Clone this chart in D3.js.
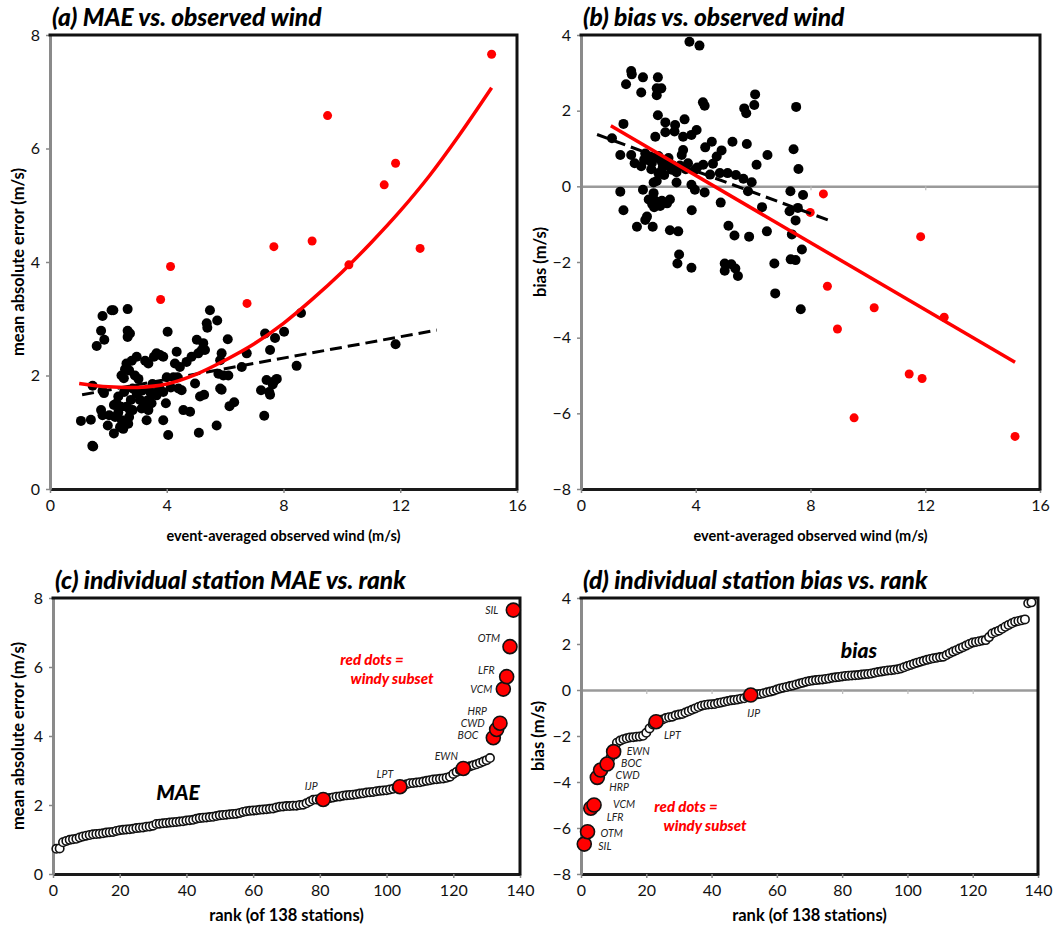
<!DOCTYPE html>
<html>
<head>
<meta charset="utf-8">
<script src="https://cdn.jsdelivr.net/npm/d3@7"></script>
<style>
  body { margin: 0; background: #fff; }
  svg text { font-family: Lato, "Open Sans", sans-serif; }
</style>
</head>
<body>
<svg id="fig" width="1055" height="929"></svg>
<script>
// ---------- (a) MAE vs. event-averaged observed wind ----------
const obsWindBlackA = [1.06,1.40,1.48,1.45,1.46,1.60,1.75,1.80,1.86,1.85,
  1.75,1.80,1.98,2.11,2.17,2.19,2.23,2.19,2.34,2.40,
  2.51,2.46,2.66,2.66,2.74,2.66,2.53,2.62,2.71,2.80,
  2.91,2.97,2.62,2.77,2.71,2.68,2.97,3.08,3.14,3.22,
  3.31,3.26,3.37,3.48,3.56,3.65,3.77,3.88,3.65,3.88,
  3.48,3.37,3.88,3.97,4.05,4.03,4.00,4.23,4.28,4.34,
  4.40,4.51,4.45,4.57,4.80,4.68,4.85,4.97,5.03,5.08,
  5.14,5.10,5.25,5.20,5.37,5.39,5.48,5.73,5.71,5.83,
  5.83,5.88,5.77,5.94,6.09,6.11,6.15,6.31,6.57,6.74,
  7.23,7.34,7.37,7.42,7.54,7.54,7.63,7.71,7.77,8.02,
  8.45,8.60,11.84,2.28,2.43,2.54,2.83,3.03,3.14,3.40,
  3.51,3.74,2.83,2.45,2.57,4.14,4.37,1.80,2.03,2.34,
  3.37,3.68,5.28,5.88,7.51,7.68,5.31,2.74];
const maeBlack = [1.20,1.22,0.75,0.76,1.82,2.52,2.79,3.05,2.63,1.69,
  1.39,1.30,1.12,3.15,3.15,1.48,1.27,0.98,1.35,1.09,
  1.06,1.21,3.17,2.79,2.74,2.68,1.95,2.21,2.09,2.26,
  2.00,2.33,1.45,1.57,1.27,1.15,1.68,1.57,1.42,1.45,
  1.21,2.26,2.21,1.68,2.33,2.39,2.36,2.33,1.65,1.71,
  1.51,1.39,1.21,1.51,0.95,2.77,1.97,1.97,2.21,2.42,
  1.77,1.74,2.15,1.39,1.36,2.24,2.33,1.86,2.63,2.39,
  1.63,0.99,2.57,2.45,2.92,2.84,3.15,2.97,1.12,1.77,
  2.27,2.39,2.03,2.00,2.64,2.00,1.46,1.53,2.15,2.39,
  1.74,1.29,2.74,1.92,2.45,1.66,1.84,2.66,1.94,2.77,
  2.17,3.10,2.55,1.51,1.45,1.71,1.77,1.94,1.73,1.73,
  1.85,1.82,1.39,2.00,2.11,1.79,1.97,1.73,1.30,1.63,
  1.57,1.71,1.66,1.75,1.71,1.90,2.45,1.39];
const obsWindRedA = [15.13,9.51,11.84,11.45,8.98,7.67,12.68,4.13,10.24,3.79,6.75];
const maeRed      = [7.66,6.58,5.74,5.36,4.37,4.27,4.24,3.92,3.95,3.34,3.27];
// fitted curve (windy subset) and linear fit (all stations)
const maeCurveWind  = [1.0,2,3,4,5,6,7,8,9,10,11,12,13,14,15.13];
const maeCurveValue = [1.86,1.80,1.79,1.85,2.02,2.27,2.56,2.92,3.35,3.82,4.34,4.90,5.52,6.22,7.07];
const maeLineWind  = [1.1,13.25];
const maeLineValue = [1.66,2.80];

// ---------- (b) bias vs. event-averaged observed wind ----------
const obsWindBlackB = [3.78,4.13,1.75,1.77,1.57,2.16,2.10,2.68,2.64,2.80,
  2.64,4.25,4.31,5.69,5.76,6.07,6.04,7.50,2.68,1.48,
  2.94,3.61,3.28,3.26,2.94,2.59,3.56,3.85,4.03,1.08,
  4.56,4.33,5.28,5.78,7.41,1.37,1.75,1.87,2.10,2.24,
  2.41,2.59,2.82,2.99,3.16,3.33,3.51,3.56,3.73,3.97,
  4.26,4.50,4.73,4.84,5.11,6.12,6.50,7.58,2.70,2.64,
  3.33,2.53,5.66,5.95,1.37,2.16,2.53,3.85,3.97,4.31,
  5.82,7.30,7.74,1.48,2.36,2.48,2.59,2.76,2.82,3.10,
  3.86,4.87,6.31,7.27,7.56,7.48,1.95,2.24,2.30,2.50,
  3.10,3.39,5.14,5.35,5.86,6.48,7.35,7.70,3.42,3.36,
  3.85,5.01,5.24,5.01,5.38,5.47,6.74,7.31,7.48,6.77,
  7.66,2.30,2.47,2.85,3.05,3.20,2.45,3.45,4.05,2.70,
  4.60,3.65,2.20,2.90,5.40,4.90,3.00,2.55];
const biasBlack = [3.82,3.72,3.05,2.96,2.70,2.88,2.48,2.88,2.59,2.59,
  2.41,2.22,2.13,2.06,1.93,2.43,2.15,2.10,1.88,1.65,
  1.69,1.77,1.62,1.45,1.43,1.31,1.31,1.36,1.49,1.27,
  1.18,1.03,1.18,1.12,0.98,0.83,0.83,0.61,0.53,0.87,
  0.79,0.75,0.64,0.61,0.44,0.37,0.83,0.96,0.61,0.44,
  0.57,0.31,0.79,0.35,0.35,0.57,0.83,0.46,0.35,0.14,
  0.10,0.10,0.20,0.11,-0.14,-0.09,-0.18,0.04,-0.09,-0.16,
  -0.13,-0.13,-0.23,-0.63,-0.35,-0.47,-0.38,-0.52,-0.38,-0.35,
  -0.63,-0.43,-0.55,-0.66,-0.57,-0.90,-1.07,-0.89,-0.80,-1.07,
  -1.16,-1.19,-1.04,-1.30,-1.33,-1.19,-1.27,-1.67,-1.80,-2.04,
  -2.15,-2.04,-2.06,-2.23,-2.17,-2.37,-2.04,-1.93,-1.95,-2.83,
  -3.25,0.70,0.62,0.50,0.75,0.55,0.45,0.55,0.50,0.80,
  0.60,0.45,0.70,0.30,0.30,0.95,-0.45,-0.55];
const obsWindRedB = [8.45,7.99,11.84,8.59,10.22,8.94,12.66,11.44,11.89,9.52,15.13];
const biasRed     = [-0.20,-0.69,-1.33,-2.64,-3.21,-3.77,-3.46,-4.96,-5.08,-6.12,-6.61];
const biasRedLineWind  = [1.04,15.13];
const biasRedLineValue = [1.60,-4.65];
const biasAllLineWind  = [0.56,8.68];
const biasAllLineValue = [1.37,-0.91];

// ---------- (c) station MAE sorted by rank (ranks 1..138) ----------
const maeSorted = [0.73,0.74,0.92,0.96,0.99,1.01,1.02,1.06,1.09,1.11,
  1.13,1.15,1.16,1.17,1.18,1.20,1.21,1.22,1.25,1.27,
  1.28,1.29,1.30,1.31,1.33,1.34,1.35,1.37,1.38,1.40,
  1.45,1.46,1.47,1.48,1.49,1.50,1.51,1.52,1.53,1.55,
  1.56,1.57,1.60,1.62,1.63,1.64,1.65,1.66,1.68,1.70,
  1.71,1.72,1.73,1.74,1.75,1.77,1.80,1.82,1.83,1.84,
  1.85,1.86,1.87,1.88,1.89,1.90,1.93,1.95,1.96,1.97,
  1.97,1.98,1.98,2.00,2.01,2.05,2.10,2.15,2.16,2.16,
  2.16,2.18,2.20,2.22,2.24,2.25,2.27,2.28,2.29,2.30,
  2.31,2.33,2.34,2.36,2.37,2.38,2.40,2.41,2.42,2.43,
  2.45,2.47,2.50,2.53,2.57,2.60,2.63,2.64,2.65,2.66,
  2.68,2.70,2.72,2.74,2.75,2.76,2.77,2.79,2.82,2.90,
  2.96,3.01,3.06,3.09,3.12,3.15,3.18,3.22,3.26,3.30,
  3.36,3.95,4.19,4.37,5.36,5.72,6.59,7.65];
const maeRedStations = ["IJP","LPT","EWN","BOC","CWD","HRP","VCM","LFR","OTM","SIL"];
const maeRedRanks    = [81,104,123,132,133,134,135,136,137,138];

// ---------- (d) station bias sorted by rank (ranks 1..138) ----------
const biasSorted = [-6.70,-6.16,-5.14,-5.00,-3.80,-3.48,-3.35,-3.22,-2.95,-2.68,
  -2.29,-2.20,-2.14,-2.10,-2.06,-2.05,-2.03,-2.02,-1.99,-1.86,
  -1.67,-1.50,-1.38,-1.30,-1.28,-1.22,-1.18,-1.16,-1.10,-1.07,
  -1.04,-0.98,-0.92,-0.86,-0.80,-0.74,-0.68,-0.65,-0.63,-0.62,
  -0.61,-0.57,-0.54,-0.51,-0.48,-0.45,-0.43,-0.41,-0.38,-0.36,
  -0.30,-0.22,-0.20,-0.19,-0.17,-0.14,-0.10,-0.07,-0.03,0.02,
  0.07,0.10,0.13,0.17,0.20,0.24,0.28,0.32,0.36,0.39,
  0.41,0.43,0.45,0.46,0.48,0.50,0.53,0.55,0.57,0.59,
  0.61,0.62,0.63,0.64,0.65,0.67,0.69,0.70,0.72,0.75,
  0.78,0.80,0.83,0.85,0.86,0.88,0.90,0.94,0.99,1.04,
  1.09,1.14,1.19,1.23,1.27,1.31,1.35,1.38,1.40,1.43,
  1.45,1.52,1.60,1.67,1.73,1.80,1.86,1.93,2.00,2.06,
  2.09,2.12,2.15,2.17,2.30,2.46,2.52,2.58,2.66,2.75,
  2.83,2.90,2.97,3.00,3.03,3.07,3.77,3.81];
const biasRedStations = ["SIL","OTM","LFR","VCM","HRP","CWD","BOC","EWN","LPT","IJP"];
const biasRedRanks    = [1,2,3,4,5,6,8,10,23,52];

// ---------- tick labels ----------
const windTicks = [0,4,8,12,16];
const maeTicks  = [0,2,4,6,8];
const biasTicks = [-8,-6,-4,-2,0,2,4];
const rankTicks = [0,20,40,60,80,100,120,140];

// ---------- drawing ----------
const svg = d3.select("#fig");
const RED = "#ff0000";

function makePanel(cfg) {
  const x = d3.scaleLinear().domain(cfg.xDomain).range([cfg.left, cfg.right]);
  const y = d3.scaleLinear().domain(cfg.yDomain).range([cfg.bottom, cfg.top]);
  const g = svg.append("g");

  // zero reference line with small ticks
  if (cfg.zeroLine) {
    const z = g.append("g").attr("transform", `translate(0,${y(0)})`)
      .call(d3.axisBottom(x).tickValues(cfg.xTicks.slice(1, -1)).tickSize(4).tickSizeOuter(0).tickFormat(""));
    z.select(".domain").attr("stroke", "#9a9a9a").attr("stroke-width", 2.5);
    z.selectAll(".tick line").attr("stroke", "#bbb").attr("stroke-width", 1.2);
  }

  // x axis
  const xa = g.append("g").attr("transform", `translate(0,${cfg.bottom})`)
    .call(d3.axisBottom(x).tickValues(cfg.xTicks).tickSize(4).tickSizeOuter(0).tickPadding(7));
  xa.select(".domain").attr("stroke", "#1a1a1a").attr("stroke-width", 3);
  xa.selectAll(".tick line").attr("stroke", "#888").attr("stroke-width", 1.5);
  xa.selectAll(".tick text").attr("font-size", 16).attr("fill", "#111").attr("font-family", "Lato, sans-serif");

  // y axis
  const ya = g.append("g").attr("transform", `translate(${cfg.left},0)`)
    .call(d3.axisLeft(y).tickValues(cfg.yTicks).tickSize(4).tickSizeOuter(0).tickPadding(6));
  ya.select(".domain").attr("stroke", "#8a8a8a").attr("stroke-width", 3);
  ya.selectAll(".tick line").attr("stroke", "#888").attr("stroke-width", 1.5);
  ya.selectAll(".tick text").attr("font-size", 16).attr("fill", "#111").attr("font-family", "Lato, sans-serif");

  // top and right frame
  g.append("path")
    .attr("d", `M${cfg.left - 1.5},${cfg.top}H${cfg.right}V${cfg.bottom + 1.5}`)
    .attr("fill", "none").attr("stroke", "#111").attr("stroke-width", 3);

  // title
  g.append("text").attr("x", cfg.left + 2).attr("y", cfg.top - 9)
    .attr("font-size", 24.5).attr("font-weight", 900).attr("font-style", "italic")
    .attr("fill", "#000").text(cfg.title);

  // axis titles
  g.append("text")
    .attr("x", (cfg.left + cfg.right) / 2).attr("y", cfg.bottom + cfg.xLabelGap)
    .attr("text-anchor", "middle").attr("font-size", cfg.xLabelSize).attr("font-weight", 700)
    .attr("fill", "#000").text(cfg.xLabel);
  g.append("text")
    .attr("transform", `translate(${cfg.yLabelX},${(cfg.top + cfg.bottom) / 2}) rotate(-90)`)
    .attr("text-anchor", "middle").attr("font-size", 16.5).attr("font-weight", 700)
    .attr("fill", "#000").text(cfg.yLabel);

  return { g, x, y };
}

function dots(p, xs, ys, r, fill) {
  p.g.append("g").selectAll("circle").data(d3.range(xs.length)).join("circle")
    .attr("cx", i => p.x(xs[i])).attr("cy", i => p.y(ys[i]))
    .attr("r", r).attr("fill", fill);
}

function linePath(p, xs, ys, color, width, dash, curve) {
  const gen = d3.line().x(i => p.x(xs[i])).y(i => p.y(ys[i])).curve(curve || d3.curveLinear);
  p.g.append("path").attr("d", gen(d3.range(xs.length)))
    .attr("fill", "none").attr("stroke", color).attr("stroke-width", width)
    .attr("stroke-dasharray", dash || null).attr("stroke-linecap", "butt");
}

// ---- panel (a)
const pa = makePanel({
  left: 50, right: 517, top: 35, bottom: 489,
  xDomain: [0, 16], yDomain: [0, 8], xTicks: windTicks, yTicks: maeTicks,
  title: "(a) MAE vs. observed wind",
  xLabel: "event-averaged observed wind (m/s)", xLabelSize: 14.5, xLabelGap: 52,
  yLabel: "mean absolute error (m/s)", yLabelX: 24
});
dots(pa, obsWindBlackA, maeBlack, 5, "#000");
dots(pa, obsWindRedA, maeRed, 4.5, RED);
linePath(pa, maeLineWind, maeLineValue, "#000", 3, "12,6");
linePath(pa, maeCurveWind, maeCurveValue, RED, 3.5, null, d3.curveCatmullRom);

// ---- panel (b)
const pb = makePanel({
  left: 581, right: 1040, top: 35, bottom: 489,
  xDomain: [0, 16], yDomain: [-8, 4], xTicks: windTicks, yTicks: biasTicks,
  zeroLine: true,
  title: "(b) bias vs. observed wind",
  xLabel: "event-averaged observed wind (m/s)", xLabelSize: 14.5, xLabelGap: 52,
  yLabel: "bias (m/s)", yLabelX: 546
});
dots(pb, obsWindBlackB, biasBlack, 5, "#000");
dots(pb, obsWindRedB, biasRed, 4.5, RED);
linePath(pb, biasAllLineWind, biasAllLineValue, "#000", 3, "12,6");
linePath(pb, biasRedLineWind, biasRedLineValue, RED, 3.5);

// ---- rank panels
function rankPanel(cfg, values, redNames, redRanks, labelLayout) {
  const p = makePanel(cfg);
  const ranks = d3.range(1, values.length + 1);
  const whiteRanks = ranks.filter(r => !redRanks.includes(r));
  p.g.append("g").selectAll("circle").data(whiteRanks).join("circle")
    .attr("cx", r => p.x(r)).attr("cy", r => p.y(values[r - 1]))
    .attr("r", 4.2).attr("fill", "#fff").attr("stroke", "#111").attr("stroke-width", 1.6);
  p.g.append("g").selectAll("circle").data(redRanks).join("circle")
    .attr("cx", r => p.x(r)).attr("cy", r => p.y(values[r - 1]))
    .attr("r", 7).attr("fill", RED).attr("stroke", "#111").attr("stroke-width", 1.6);
  p.g.append("g").selectAll("text").data(redNames).join("text")
    .attr("x", (n, i) => p.x(redRanks[i]) + labelLayout[n][0])
    .attr("y", (n, i) => p.y(values[redRanks[i] - 1]) + labelLayout[n][1])
    .attr("text-anchor", n => labelLayout[n][2])
    .attr("font-size", 10.5).attr("font-style", "italic").attr("fill", "#222")
    .attr("font-family", "'Open Sans', sans-serif")
    .text(n => n);
  return p;
}

function note(p, x, y, lines, size, color, anchor) {
  lines.forEach((t, i) => {
    p.g.append("text").attr("x", x[i]).attr("y", y[i])
      .attr("text-anchor", anchor).attr("font-size", size)
      .attr("font-weight", 900).attr("font-style", "italic").attr("fill", color).text(t);
  });
}

const pc = rankPanel({
  left: 53, right: 520, top: 598, bottom: 874,
  xDomain: [0, 140], yDomain: [0, 8], xTicks: rankTicks, yTicks: maeTicks,
  title: "(c) individual station MAE vs. rank",
  xLabel: "rank (of 138 stations)", xLabelSize: 16.5, xLabelGap: 47,
  yLabel: "mean absolute error (m/s)", yLabelX: 24
}, maeSorted, maeRedStations, maeRedRanks, {
  SIL: [-15, 4, "end"], OTM: [-10, -5, "end"], LFR: [-12, -3, "end"],
  VCM: [-11, 4, "end"], HRP: [-13, -8, "end"], CWD: [-12, -2, "end"],
  BOC: [-15, 1, "end"], EWN: [-17, -8, "middle"], LPT: [-15, -9, "middle"],
  IJP: [-12, -9, "middle"]
});
note(pc, [372, 392], [665, 684], ["red dots =", "windy subset"], 15, RED, "middle");
note(pc, [178], [800], ["MAE"], 21, "#000", "middle");

const pd = rankPanel({
  left: 581, right: 1038, top: 598, bottom: 874,
  xDomain: [0, 140], yDomain: [-8, 4], xTicks: rankTicks, yTicks: biasTicks,
  zeroLine: true,
  title: "(d) individual station bias vs. rank",
  xLabel: "rank (of 138 stations)", xLabelSize: 16.5, xLabelGap: 47,
  yLabel: "bias (m/s)", yLabelX: 544
}, biasSorted, biasRedStations, biasRedRanks, {
  SIL: [14, 6, "start"], OTM: [13, 5, "start"], LFR: [16, 13, "start"],
  VCM: [19, 3, "start"], HRP: [12, 14, "start"], CWD: [15, 9, "start"],
  BOC: [14, 3, "start"], EWN: [13, 3, "start"], LPT: [8, 17, "start"],
  IJP: [3, 22, "middle"]
});
note(pd, [686, 705], [812, 831], ["red dots =", "windy subset"], 15, RED, "middle");
note(pd, [859], [658], ["bias"], 21, "#000", "middle");
</script>
</body>
</html>
